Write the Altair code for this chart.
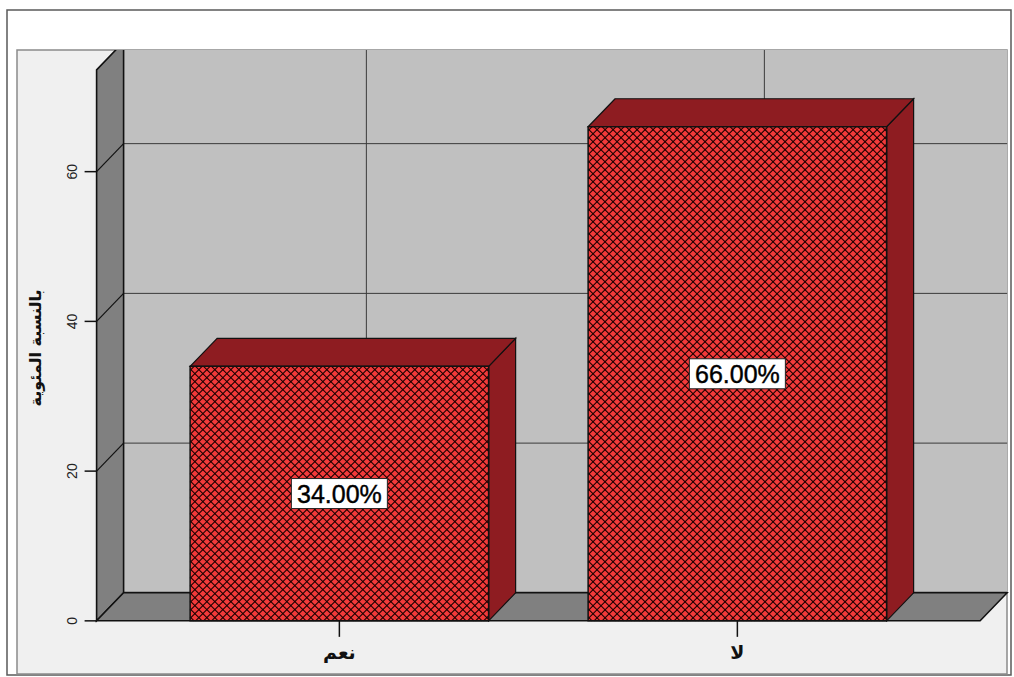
import altair as alt
import numpy as np
import pandas as pd

# ---- data -------------------------------------------------------------
categories = ["نعم", "لا"]
percent = [34.0, 66.0]
y_ticks = [0, 20, 40, 60]
y_title = "بالنسبة المئوية"

# ---- frame / scale setup ----------------------------------------------
W, H = 991, 624                      # plot area (inner panel)
X_DOMAIN = [-0.81, 1.68]             # category index units
Y_DOMAIN = [-7.1, 76.25]             # percent units
xpx = W / (X_DOMAIN[1] - X_DOMAIN[0])
ypx = H / (Y_DOMAIN[1] - Y_DOMAIN[0])

DX = 27 / xpx                        # depth offset of the 3-D box
DY = 28 / ypx
LEFT = -0.61
RIGHT = len(categories) - 1 + 0.61
HALF = 0.375                         # half bar width
TOP = 73.6                           # wall height (clipped by the panel)

xs = alt.Scale(domain=X_DOMAIN, nice=False, zero=False)
ys = alt.Scale(domain=Y_DOMAIN, nice=False, zero=False)


def X(field="x"):
    return alt.X(f"{field}:Q", scale=xs, axis=None)


def Y(field="y"):
    return alt.Y(f"{field}:Q", scale=ys, axis=None)


# ---- frame ---------------------------------------------------------
outer = alt.Chart(pd.DataFrame({"a": [0]})).mark_rect(
    fillOpacity=0, stroke="#5a5a5a", strokeWidth=1.5
).encode(x=alt.value(-10), x2=alt.value(994), y=alt.value(-40), y2=alt.value(625))

panel = alt.Chart(pd.DataFrame({"a": [0]})).mark_rect(
    fill="#f0f0f0", stroke="#8a8a8a", strokeWidth=1.5
).encode(x=alt.value(0), x2=alt.value(990), y=alt.value(0), y2=alt.value(624))

# ---- back wall -------------------------------------------------------
back_df = pd.DataFrame({"x": [LEFT + DX], "x2": [RIGHT + DX], "y": [DY], "y2": [TOP + DY]})
back = alt.Chart(back_df).mark_rect(fill="#c0c0c0", clip=True).encode(
    x=X(), x2="x2:Q", y=Y(), y2="y2:Q"
)

hgrid_df = pd.DataFrame({
    "x": [LEFT + DX] * 3, "x2": [RIGHT + DX] * 3,
    "y": [v + DY for v in y_ticks[1:]], "y2": [v + DY for v in y_ticks[1:]],
})
hgrid = alt.Chart(hgrid_df).mark_rule(color="#3a3a3a", strokeWidth=1).encode(
    x=X(), x2="x2:Q", y=Y(), y2="y2:Q"
)

vgrid_df = pd.DataFrame({
    "x": [i + DX for i in range(len(categories))],
    "x2": [i + DX for i in range(len(categories))],
    "y": [DY] * len(categories), "y2": [TOP + DY] * len(categories),
})
vgrid = alt.Chart(vgrid_df).mark_rule(color="#3a3a3a", strokeWidth=1, clip=True).encode(
    x=X(), x2="x2:Q", y=Y(), y2="y2:Q"
)

back_edge_df = pd.DataFrame({"x": [LEFT + DX], "x2": [RIGHT + DX], "y": [DY], "y2": [DY]})
back_edge = alt.Chart(back_edge_df).mark_rule(color="#222222", strokeWidth=2).encode(
    x=X(), x2="x2:Q", y=Y(), y2="y2:Q"
)

# ---- left wall -------------------------------------------------------
lwall_df = pd.DataFrame({"x": [LEFT, LEFT + DX], "y": [TOP, TOP + DY], "y2": [0, DY]})
lwall = alt.Chart(lwall_df).mark_area(
    orient="vertical", fill="#808080", stroke="#111111", strokeWidth=1.6, clip=True
).encode(x=X(), y=Y(), y2="y2:Q")

lgrid_df = pd.DataFrame({
    "x": [LEFT] * 3, "x2": [LEFT + DX] * 3,
    "y": y_ticks[1:], "y2": [v + DY for v in y_ticks[1:]],
})
lgrid = alt.Chart(lgrid_df).mark_rule(color="#111111", strokeWidth=1.2).encode(
    x=X(), x2="x2:Q", y=Y(), y2="y2:Q"
)

# ---- floor -----------------------------------------------------------
floor_df = pd.DataFrame({"y": [0, DY], "x": [LEFT, LEFT + DX], "x2": [RIGHT, RIGHT + DX]})
floor = alt.Chart(floor_df).mark_area(
    orient="horizontal", fill="#808080", stroke="#111111", strokeWidth=1.5
).encode(y=Y(), x=X(), x2="x2:Q")

# ---- y axis ----------------------------------------------------------
ytick_df = pd.DataFrame({"x": [LEFT - 12 / xpx] * len(y_ticks), "x2": [LEFT] * len(y_ticks),
                         "y": y_ticks, "y2": y_ticks})
yticks = alt.Chart(ytick_df).mark_rule(color="#111111", strokeWidth=1.5).encode(
    x=X(), x2="x2:Q", y=Y(), y2="y2:Q"
)
ylab_df = pd.DataFrame({"x": [LEFT - 24 / xpx] * len(y_ticks), "y": y_ticks,
                        "t": [str(v) for v in y_ticks]})
ylabels = alt.Chart(ylab_df).mark_text(
    angle=270, align="center", baseline="middle", font="Liberation Sans",
    fontSize=14, color="#222222"
).encode(x=X(), y=Y(), text="t:N")

ytitle = alt.Chart(pd.DataFrame({"t": [y_title]})).mark_text(
    angle=270, align="center", baseline="middle", font="DejaVu Sans",
    fontSize=16, fontWeight="bold", color="#111111"
).encode(x=alt.value(19), y=alt.value(298), text="t:N")

# ---- bars --------------------------------------------------------------
side_rows, top_rows, front_rows = [], [], []
for i, v in enumerate(percent):
    side_rows += [
        {"bar": i, "x": i + HALF, "y": v, "y2": 0},
        {"bar": i, "x": i + HALF + DX, "y": v + DY, "y2": DY},
    ]
    top_rows += [
        {"bar": i, "y": v, "x": i - HALF, "x2": i + HALF},
        {"bar": i, "y": v + DY, "x": i - HALF + DX, "x2": i + HALF + DX},
    ]
    front_rows.append({"bar": i, "x": i - HALF, "x2": i + HALF, "y": 0, "y2": v})

BAR_DARK = "#8e1c21"
sides = alt.Chart(pd.DataFrame(side_rows)).mark_area(
    orient="vertical", fill=BAR_DARK, stroke="#111111", strokeWidth=1.2
).encode(x=X(), y=Y(), y2="y2:Q", detail="bar:N")
tops = alt.Chart(pd.DataFrame(top_rows)).mark_area(
    orient="horizontal", fill=BAR_DARK, stroke="#111111", strokeWidth=1.2
).encode(y=Y(), x=X(), x2="x2:Q", detail="bar:N")

front_df = pd.DataFrame(front_rows)
fronts = alt.Chart(front_df).mark_rect(fill="#f23a3a").encode(
    x=X(), x2="x2:Q", y=Y(), y2="y2:Q"
)

# cross-hatch on the front faces (45 degree lines, 8 px period)
PERIOD = 8.0
hatch = []
for i, v in enumerate(percent):
    wp = 2 * HALF * xpx
    hp = v * ypx
    x0 = i - HALF
    for k in np.arange(-hp + PERIOD / 2, wp, PERIOD):      # rising lines u - h = k
        h0, h1 = max(0.0, -k), min(hp, wp - k)
        if h1 > h0:
            hatch.append({"x": x0 + (k + h0) / xpx, "y": h0 / ypx,
                          "x2": x0 + (k + h1) / xpx, "y2": h1 / ypx})
    for k in np.arange(PERIOD / 2, wp + hp, PERIOD):         # falling lines u + h = k
        h0, h1 = max(0.0, k - wp), min(hp, k)
        if h1 > h0:
            hatch.append({"x": x0 + (k - h0) / xpx, "y": h0 / ypx,
                          "x2": x0 + (k - h1) / xpx, "y2": h1 / ypx})
hatch_lines = alt.Chart(pd.DataFrame(hatch)).mark_rule(
    color="#1a0000", strokeWidth=1.05
).encode(x=X(), x2="x2:Q", y=Y(), y2="y2:Q")

outline = alt.Chart(front_df).mark_rect(
    fillOpacity=0, stroke="#111111", strokeWidth=1.5
).encode(x=X(), x2="x2:Q", y=Y(), y2="y2:Q")

# ---- x axis ----------------------------------------------------------
xt_df = pd.DataFrame({"x": list(range(len(categories))), "y": [0.0] * len(categories),
                      "y2": [-16 / ypx] * len(categories)})
xticks = alt.Chart(xt_df).mark_rule(color="#111111", strokeWidth=1.5).encode(
    x=X(), y=Y(), y2="y2:Q"
)
xl_df = pd.DataFrame({"x": list(range(len(categories))), "y": [-32 / ypx] * len(categories),
                      "t": categories})
xlabels = alt.Chart(xl_df).mark_text(
    align="center", baseline="middle", font="DejaVu Sans", fontSize=19,
    fontWeight="bold", color="#111111"
).encode(x=X(), y=Y(), text="t:N")

# ---- value labels ----------------------------------------------------
lab_df = pd.DataFrame({
    "xc": list(range(len(categories))),
    "x": [i - 48 / xpx for i in range(len(categories))],
    "x2": [i + 48 / xpx for i in range(len(categories))],
    "yc": [v / 2 for v in percent],
    "y": [v / 2 - 15 / ypx for v in percent],
    "y2": [v / 2 + 15 / ypx for v in percent],
    "t": [f"{v:.2f}%" for v in percent],
})
lab_box = alt.Chart(lab_df).mark_rect(fill="white", stroke="#222222", strokeWidth=1).encode(
    x=X(), x2="x2:Q", y=Y(), y2="y2:Q"
)
lab_txt = alt.Chart(lab_df).mark_text(
    align="center", baseline="middle", font="Liberation Sans", fontSize=25,
    color="#000000", dy=1, stroke="#000000", strokeWidth=0.4
).encode(x=X("xc"), y=Y("yc"), text="t:N")

chart = alt.layer(
    outer, panel, back, hgrid, vgrid, back_edge, lwall, lgrid, floor,
    yticks, ylabels, ytitle,
    sides, tops, fronts, hatch_lines, outline,
    xticks, xlabels, lab_box, lab_txt,
).properties(
    width=W, height=H,
    autosize=alt.AutoSizeParams(type="none"),
    padding={"left": 17, "top": 50, "right": 6, "bottom": 3},
    background="white",
).configure_view(strokeWidth=0)

chart.save("out.html", embed_options={"renderer": "svg", "actions": False})
